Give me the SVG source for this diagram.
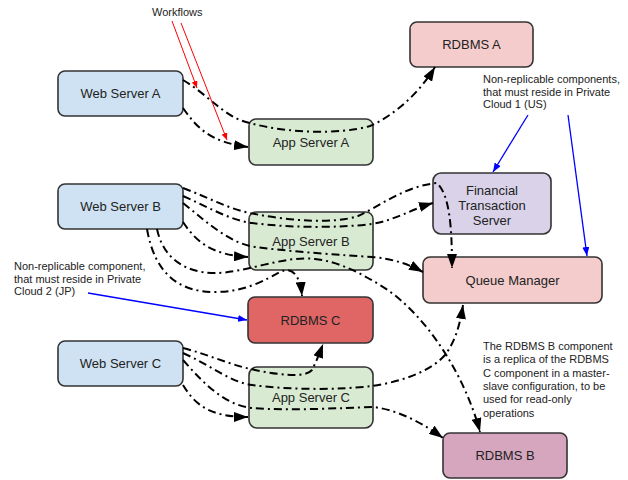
<svg xmlns="http://www.w3.org/2000/svg" width="628" height="480" viewBox="0 0 628 480">
<defs>
<style>
.node rect{stroke:#333;stroke-width:1.6}
.lbl{font-family:"Liberation Sans",Arial,sans-serif;font-size:13px;fill:#222;text-anchor:middle}
.note{font-family:"Liberation Sans",Arial,sans-serif;font-size:11px;fill:#222}
.flow{fill:none;stroke:#000;stroke-width:2;stroke-dasharray:8 4 2 4;marker-end:url(#ah)}
.red{fill:none;stroke:#f00;stroke-width:1;marker-end:url(#ahr)}
.blue{fill:none;stroke:#00f;stroke-width:1.3;marker-end:url(#ahb)}
</style>
<marker id="ah" markerUnits="userSpaceOnUse" markerWidth="14" markerHeight="10" refX="14" refY="5" orient="auto"><path d="M0,0 L14,5 L0,10 z" fill="#000"/></marker>
<marker id="ahr" markerUnits="userSpaceOnUse" markerWidth="7" markerHeight="6" refX="7" refY="3" orient="auto"><path d="M0,0 L7,3 L0,6 z" fill="#f00"/></marker>
<marker id="ahb" markerUnits="userSpaceOnUse" markerWidth="9" markerHeight="7" refX="9" refY="3.5" orient="auto"><path d="M0,0 L9,3.5 L0,7 z" fill="#00f"/></marker>
</defs>
<rect width="628" height="480" fill="#fff"/>

<g id="web-a" class="node"><rect x="58" y="71" width="125" height="45" rx="7" fill="#cfe2f3"/><text class="lbl" x="120.5" y="98">Web Server A</text></g>
<g id="app-a" class="node"><rect x="249" y="119" width="124" height="46" rx="7" fill="#d9ead3"/><text class="lbl" x="311" y="146.5">App Server A</text></g>
<g id="rdbms-a" class="node"><rect x="410" y="22" width="123" height="45" rx="7" fill="#f4cccc"/><text class="lbl" x="471.5" y="49">RDBMS A</text></g>
<g id="web-b" class="node"><rect x="58" y="184" width="125" height="45" rx="7" fill="#cfe2f3"/><text class="lbl" x="120.5" y="211">Web Server B</text></g>
<g id="app-b" class="node"><rect x="249" y="212" width="124" height="58" rx="7" fill="#d9ead3"/><text class="lbl" x="311" y="246">App Server B</text></g>
<g id="fts" class="node"><rect x="433" y="173" width="118" height="61" rx="8" fill="#d9d2e9"/><text class="lbl" x="492" y="194.5">Financial</text><text class="lbl" x="492" y="209.5">Transaction</text><text class="lbl" x="492" y="224.5">Server</text></g>
<g id="queue" class="node"><rect x="423" y="257" width="179" height="46" rx="7" fill="#f4cccc"/><text class="lbl" x="512.5" y="284.5">Queue Manager</text></g>
<g id="rdbms-c" class="node"><rect x="248" y="297" width="125" height="46" rx="7" fill="#e06666"/><text class="lbl" x="310.5" y="324.5">RDBMS C</text></g>
<g id="web-c" class="node"><rect x="58" y="341" width="125" height="45" rx="7" fill="#cfe2f3"/><text class="lbl" x="120.5" y="368">Web Server C</text></g>
<g id="app-c" class="node"><rect x="249" y="367" width="124" height="61" rx="8" fill="#d9ead3"/><text class="lbl" x="311" y="402">App Server C</text></g>
<g id="rdbms-b" class="node"><rect x="443" y="433" width="124" height="45" rx="7" fill="#d5a6bd"/><text class="lbl" x="505" y="460">RDBMS B</text></g>

<g id="connectors">
<path class="flow" d="M183,80 C210,96 225,118 250,123 C285,133 340,135 370,126 C395,115 420,92 435,67"/>
<path class="flow" d="M183,108 C197,128 210,142 248,147"/>
<path class="flow" d="M183,188 C210,198 230,210 255,214 C290,221 335,224 358,216 C380,206 405,186 437,183 C450,195 452,230 452,268"/>
<path class="flow" d="M183,196 C210,208 230,220 252,223 C290,228 340,228 372,224 C395,220 410,210 433,203"/>
<path class="flow" d="M183,203 C210,225 230,243 255,247 C295,252 340,255 372,257 C395,259 410,265 423,272"/>
<path class="flow" d="M183,222 C195,240 210,255 248,257"/>
<path class="flow" d="M157,229 C163,258 185,273 215,273 C245,273 285,255 315,259 C340,262 360,273 380,285 C425,312 465,375 480,432"/>
<path class="flow" d="M147,229 C155,275 180,292 215,292 C245,292 265,280 280,272 C292,266 300,275 302,296"/>
<path class="flow" d="M183,348 C210,355 230,365 255,370 C280,375 305,378 312,370 C316,362 319,355 323,344"/>
<path class="flow" d="M183,353 C210,365 230,382 252,385 C290,390 340,390 372,386 C400,382 430,372 445,355 C455,342 460,325 463,305"/>
<path class="flow" d="M183,360 C205,385 225,405 252,408 C290,411 340,408 373,407 C400,410 425,425 443,438"/>
<path class="flow" d="M183,385 C195,405 210,417 248,417"/>
<path class="red" d="M172,21 L197,88"/>
<path class="red" d="M181,23 L227,140"/>
<path class="blue" d="M528,115 L493,172"/>
<path class="blue" d="M568,115 L587,256"/>
<path class="blue" d="M88,293 L247,320"/>
</g>

<g id="notes">
<text class="note" x="152" y="16">Workflows</text>
<text class="note" x="483" y="83">Non-replicable components,</text>
<text class="note" x="483" y="95.5">that must reside in Private</text>
<text class="note" x="483" y="108">Cloud 1 (US)</text>
<text class="note" x="14" y="270">Non-replicable component,</text>
<text class="note" x="14" y="282.5">that must reside in Private</text>
<text class="note" x="14" y="295">Cloud 2 (JP)</text>
<text class="note" x="483" y="350">The RDBMS B component</text>
<text class="note" x="483" y="363.3">is a replica of the RDBMS</text>
<text class="note" x="483" y="376.6">C component in a master-</text>
<text class="note" x="483" y="390">slave configuration, to be</text>
<text class="note" x="483" y="403.3">used for read-only</text>
<text class="note" x="483" y="416.6">operations</text>
</g>
</svg>
